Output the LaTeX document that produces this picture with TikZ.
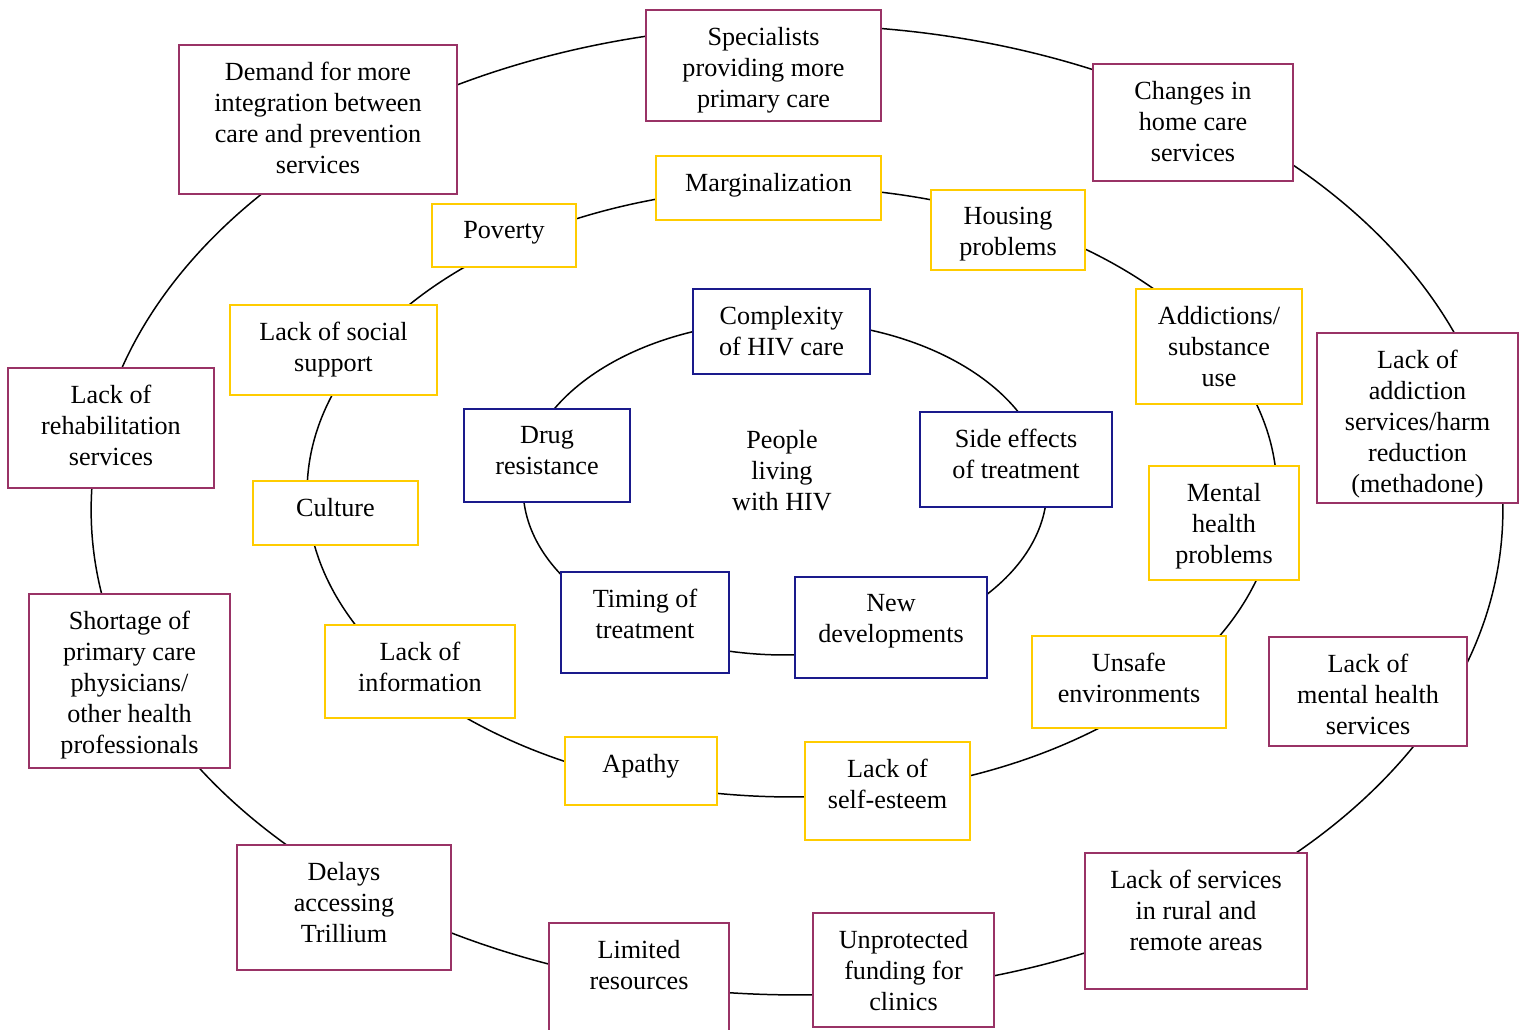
\documentclass[tikz,border=0pt]{standalone}
\usepackage{fontspec}
\setmainfont{Liberation Serif}
\usetikzlibrary{positioning}
\definecolor{ringouter}{HTML}{993366}
\definecolor{ringmid}{HTML}{FFCC00}
\definecolor{ringinner}{HTML}{1A1A8C}

\begin{document}
\begin{tikzpicture}[
    x=0.02cm, y=-0.02cm,
    font=\fontsize{14.9pt}{17.6pt}\selectfont,
    box/.style={draw=#1, fill=white, line width=1.1pt, inner sep=0pt, outer sep=0pt},
    txt/.style={align=center, anchor=north, inner sep=0pt, yshift=-0.34cm},
    ring/.style={line width=0.85pt, color=black},
]
\useasboundingbox (0,0) rectangle (1527,1029);

% the three rings
\coordinate (outc) at (797,510);
\coordinate (midc) at (792,492);
\coordinate (inc)  at (785,488);
\draw[ring] (outc) ellipse [x radius=14.12cm, y radius=9.70cm];
\draw[ring] (midc) ellipse [x radius=9.70cm, y radius=6.10cm];
\draw[ring] (inc)  ellipse [x radius=5.24cm, y radius=3.34cm];

% outer ring: health system
\node[box=ringouter, minimum width=4.70cm, minimum height=2.22cm, label={[txt]north:{Specialists\\providing more\\primary care}}] (spec) at (763.5,65.5) {};
\node[box=ringouter, minimum width=5.56cm, minimum height=2.98cm, label={[txt]north:{Demand for more\\integration between\\care and prevention\\services}}] (demand) at (318,119.5) {};
\node[box=ringouter, minimum width=4.00cm, minimum height=2.34cm, label={[txt]north:{Changes in\\home care\\services}}] (home) at (1193,122.5) {};
\node[box=ringouter, minimum width=4.12cm, minimum height=2.40cm, label={[txt]north:{Lack of\\rehabilitation\\services}}] (rehab) at (111,428) {};
\node[box=ringouter, minimum width=4.02cm, minimum height=3.40cm, label={[txt]north:{Lack of\\addiction\\services/harm\\reduction\\(methadone)}}] (harm) at (1417.5,418) {};
\node[box=ringouter, minimum width=4.02cm, minimum height=3.48cm, label={[txt]north:{Shortage of\\primary care\\physicians/\\other health\\professionals}}] (short) at (129.5,681) {};
\node[box=ringouter, minimum width=3.96cm, minimum height=2.18cm, label={[txt]north:{Lack of\\mental health\\services}}] (mhserv) at (1368,691.5) {};
\node[box=ringouter, minimum width=4.28cm, minimum height=2.50cm, label={[txt]north:{Delays\\accessing\\Trillium}}] (delays) at (344,907.5) {};
\node[box=ringouter, minimum width=3.60cm, minimum height=2.28cm, label={[txt]north:{Limited\\resources}}] (limited) at (639,980) {};
\node[box=ringouter, minimum width=3.62cm, minimum height=2.28cm, label={[txt]north:{Unprotected\\funding for\\clinics}}] (funding) at (903.5,970) {};
\node[box=ringouter, minimum width=4.44cm, minimum height=2.72cm, label={[txt]north:{Lack of services\\in rural and\\remote areas}}] (rural) at (1196,921) {};

% middle ring: social conditions
\node[box=ringmid, minimum width=4.50cm, minimum height=1.28cm, label={[txt]north:{Marginalization}}] (marg) at (768.5,188) {};
\node[box=ringmid, minimum width=2.88cm, minimum height=1.26cm, label={[txt]north:{Poverty}}] (poverty) at (504,235.5) {};
\node[box=ringmid, minimum width=3.08cm, minimum height=1.60cm, label={[txt]north:{Housing\\problems}}] (housing) at (1008,230) {};
\node[box=ringmid, minimum width=4.14cm, minimum height=1.80cm, label={[txt]north:{Lack of social\\support}}] (social) at (333.5,350) {};
\node[box=ringmid, minimum width=3.32cm, minimum height=2.30cm, label={[txt]north:{Addictions/\\substance\\use}}] (subst) at (1219,346.5) {};
\node[box=ringmid, minimum width=3.30cm, minimum height=1.28cm, label={[txt]north:{Culture}}] (culture) at (335.5,513) {};
\node[box=ringmid, minimum width=3.00cm, minimum height=2.28cm, label={[txt]north:{Mental\\health\\problems}}] (mental) at (1224,523) {};
\node[box=ringmid, minimum width=3.80cm, minimum height=1.86cm, label={[txt]north:{Lack of\\information}}] (info) at (420,671.5) {};
\node[box=ringmid, minimum width=3.88cm, minimum height=1.84cm, label={[txt]north:{Unsafe\\environments}}] (unsafe) at (1129,682) {};
\node[box=ringmid, minimum width=3.04cm, minimum height=1.36cm, label={[txt]north:{Apathy}}] (apathy) at (641,771) {};
\node[box=ringmid, minimum width=3.30cm, minimum height=1.96cm, label={[txt]north:{Lack of\\self-esteem}}] (esteem) at (887.5,791) {};

% inner ring: treatment
\node[box=ringinner, minimum width=3.54cm, minimum height=1.70cm, label={[txt]north:{Complexity\\of HIV care}}] (complex) at (781.5,331.5) {};
\node[box=ringinner, minimum width=3.32cm, minimum height=1.86cm, label={[txt]north:{Drug\\resistance}}] (drug) at (547,455.5) {};
\node[box=ringinner, minimum width=3.84cm, minimum height=1.90cm, label={[txt]north:{Side effects\\of treatment}}] (side) at (1016,459.5) {};
\node[box=ringinner, minimum width=3.36cm, minimum height=2.02cm, label={[txt]north:{Timing of\\treatment}}] (timing) at (645,622.5) {};
\node[box=ringinner, minimum width=3.84cm, minimum height=2.02cm, label={[txt]north:{New\\developments}}] (newdev) at (891,627.5) {};

\node[align=center, inner sep=0pt] (hiv) at (782,471) {People\\living\\with HIV};
\end{tikzpicture}
\end{document}
